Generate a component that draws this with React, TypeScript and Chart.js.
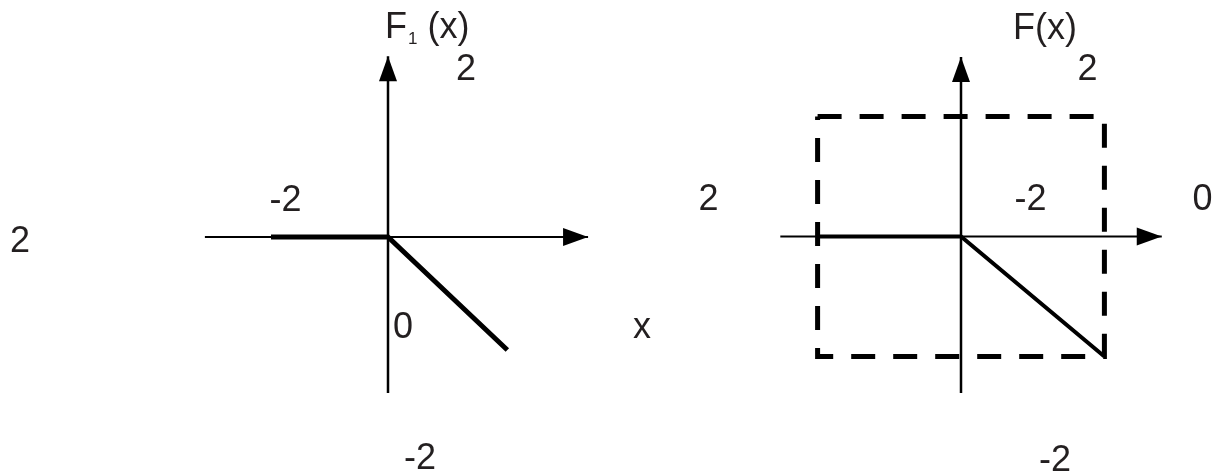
import React, { useEffect, useRef } from "react";
import { Chart, registerables } from "chart.js";

Chart.register(...registerables);

// ---- Data (panel units) ----
// Left panel: F1(x)
const f1X = [-2, 0, 2.04];
const f1Y = [0, 0, -2];
// Right panel: F(x)
const fX = [-2, 0, 2];
const fY = [0, 0, -2];
// Right panel dashed bounding box
const boxX = [-2, 2, 2, -2, -2];
const boxY = [2, 2, -2, -2, 2];
// Axis extents (arrow at the last point)
const leftAxisHX = [-3.13, 3.42];
const leftAxisVY = [-2.76, 3.2];
const rightAxisHX = [-2.52, 2.8];
const rightAxisVY = [-2.61, 2.99];
// Tick / annotation texts
const leftTickLabels = ["2", "-2", "0", "-2"];
const rightTickLabels = ["2", "-2", "0", "-2"];
const strayLabels = ["2", "2", "x"];
const leftTitle = ["F", "1", " (x)"];
const rightTitle = "F(x)";

// ---- Layout (pixels) ----
const W = 1219;
const H = 472;
const LP = { ox: 388, oy: 237, ux: 58.5, uy: 56.5 };
const RP = { ox: 961, oy: 236.5, ux: 71.7, uy: 60 };

// label anchors (panel units), kept apart from the data
const leftTickPos = [
  [1.333, 2.779],
  [-1.752, 0.46],
  [0.256, -1.788],
  [0.547, -4.11],
];
const rightTickPos = [
  [1.764, 2.608],
  [0.969, 0.442],
  [3.368, 0.442],
  [1.311, -3.9],
];
const strayPos = [
  [-6.29, -0.265],
  [5.479, 0.478],
  [4.342, -1.788],
];
const leftTitlePos = [-0.051, 3.522];
const rightTitlePos = [1.172, 3.3];

const FONT = '"Liberation Sans", Arial, Helvetica, sans-serif';
const INK = "#000000";
const TEXT = "#231f20";

const zip = (xs: number[], ys: number[]) => xs.map((x, i) => ({ x, y: ys[i] }));

const arrowPlugin = {
  id: "axisArrows",
  afterDatasetsDraw(chart: any) {
    const ctx = chart.ctx;
    chart.data.datasets.forEach((ds: any, i: number) => {
      if (!ds.arrow) return;
      const pts = chart.getDatasetMeta(i).data;
      const a = pts[pts.length - 2];
      const b = pts[pts.length - 1];
      const ang = Math.atan2(b.y - a.y, b.x - a.x);
      const len = 25;
      const hw = 9;
      ctx.save();
      ctx.fillStyle = INK;
      ctx.translate(b.x, b.y);
      ctx.rotate(ang);
      ctx.beginPath();
      ctx.moveTo(0, 0);
      ctx.lineTo(-len, -hw);
      ctx.lineTo(-len, hw);
      ctx.closePath();
      ctx.fill();
      ctx.restore();
    });
  },
};

const labelPlugin = {
  id: "panelLabels",
  afterDatasetsDraw(chart: any) {
    const ctx = chart.ctx;
    const s = chart.scales;
    const put = (txt: string, p: number[], xs: string, ys: string) => {
      ctx.fillText(txt, s[xs].getPixelForValue(p[0]), s[ys].getPixelForValue(p[1]));
    };
    ctx.save();
    ctx.fillStyle = TEXT;
    ctx.textBaseline = "alphabetic";
    ctx.textAlign = "center";
    ctx.font = `36px ${FONT}`;
    leftTickLabels.forEach((t, i) => put(t, leftTickPos[i], "xL", "yL"));
    rightTickLabels.forEach((t, i) => put(t, rightTickPos[i], "xR", "yR"));
    strayLabels.forEach((t, i) => put(t, strayPos[i], "xL", "yL"));
    put(rightTitle, rightTitlePos, "xR", "yR");
    // F₁ (x)
    ctx.textAlign = "left";
    let x = s.xL.getPixelForValue(leftTitlePos[0]);
    const y = s.yL.getPixelForValue(leftTitlePos[1]);
    ctx.font = `36px ${FONT}`;
    ctx.fillText(leftTitle[0], x, y);
    x += ctx.measureText(leftTitle[0]).width + 1;
    ctx.font = `17px ${FONT}`;
    ctx.fillText(leftTitle[1], x, y + 6);
    x += ctx.measureText(leftTitle[1]).width;
    ctx.font = `36px ${FONT}`;
    ctx.fillText(leftTitle[2], x, y);
    ctx.restore();
  },
};

const hidden = (min: number, max: number, reverse = false) => ({
  type: "linear" as const,
  display: false,
  min,
  max,
  reverse,
  grid: { display: false },
});

export default function App() {
  const ref = useRef<HTMLCanvasElement | null>(null);

  useEffect(() => {
    if (!ref.current) return;
    const line = (data: any[], width: number, xAxisID: string, yAxisID: string, extra: any = {}) => ({
      data,
      showLine: true,
      borderColor: INK,
      backgroundColor: INK,
      borderWidth: width,
      pointRadius: 0,
      pointHoverRadius: 0,
      borderCapStyle: "butt",
      borderJoinStyle: "miter",
      tension: 0,
      clip: false,
      xAxisID,
      yAxisID,
      ...extra,
    });

    const chart = new Chart(ref.current, {
      type: "scatter",
      data: {
        datasets: [
          line(zip(f1X, f1Y), 5, "xL", "yL"),
          line(zip(fX, fY), 4, "xR", "yR"),
          line(zip(boxX, boxY), 5, "xR", "yR", { borderDash: [24, 18] }),
          line(zip(leftAxisHX, [0, 0]), 2, "xL", "yL", { arrow: true }),
          line(zip([0, 0], leftAxisVY), 2.5, "xL", "yL", { arrow: true }),
          line(zip(rightAxisHX, [0, 0]), 2, "xR", "yR", { arrow: true }),
          line(zip([0, 0], rightAxisVY), 2.5, "xR", "yR", { arrow: true }),
        ] as any,
      },
      options: {
        animation: false,
        responsive: false,
        maintainAspectRatio: false,
        devicePixelRatio: 1,
        events: [],
        layout: { padding: 0 },
        plugins: {
          legend: { display: false },
          tooltip: { enabled: false },
          title: { display: false },
        },
        scales: {
          xL: hidden(-LP.ox / LP.ux, (W - LP.ox) / LP.ux),
          yL: hidden(-(H - LP.oy) / LP.uy, LP.oy / LP.uy),
          xR: hidden(-RP.ox / RP.ux, (W - RP.ox) / RP.ux),
          yR: hidden(-(H - RP.oy) / RP.uy, RP.oy / RP.uy),
        } as any,
      },
      plugins: [arrowPlugin, labelPlugin],
    });
    return () => chart.destroy();
  }, []);

  return (
    <div style={{ position: "absolute", left: 0, top: 0, width: W, height: H, background: "#fff" }}>
      <canvas ref={ref} width={W} height={H} style={{ display: "block", width: W, height: H }} />
    </div>
  );
}
